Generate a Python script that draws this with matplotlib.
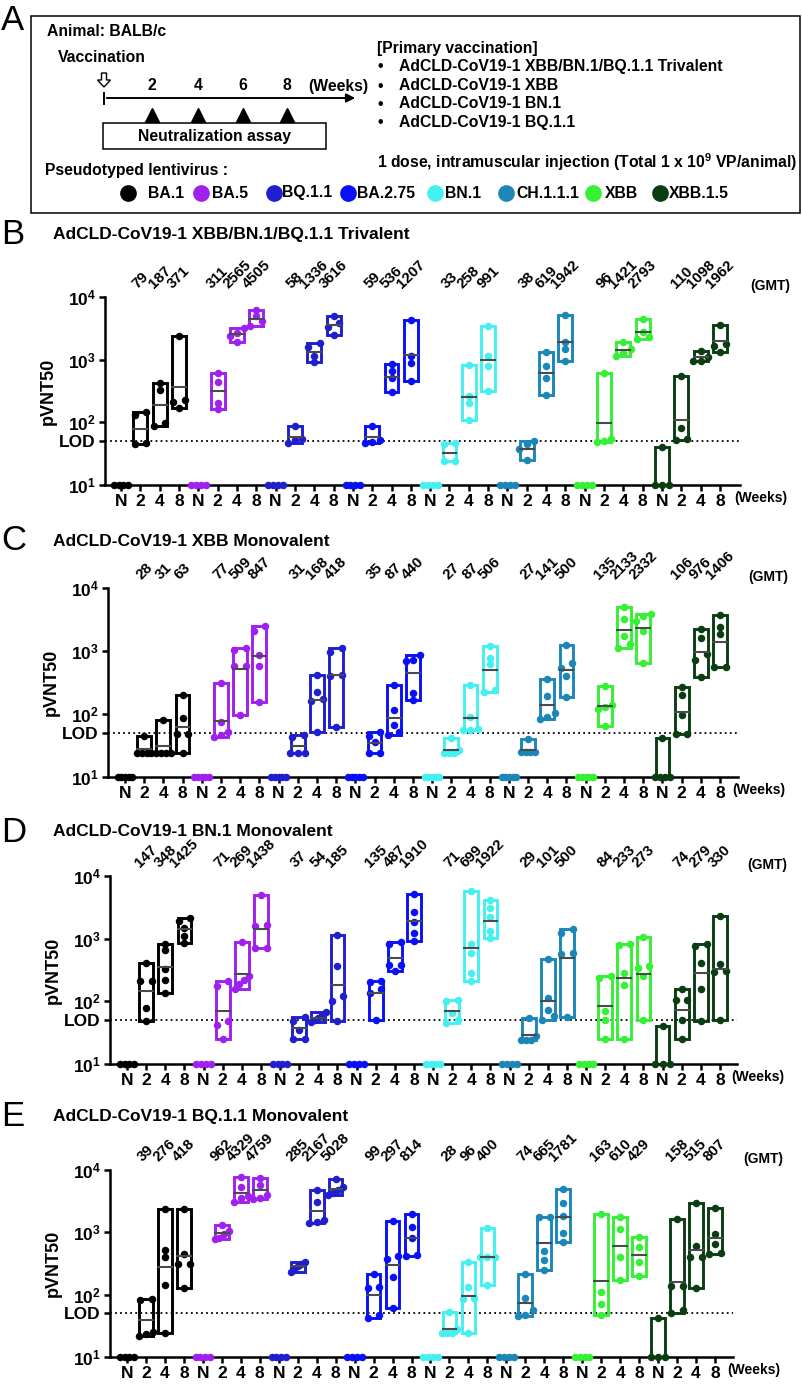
import numpy as np
import matplotlib
matplotlib.use('Agg')
import matplotlib.pyplot as plt
from matplotlib.patches import Rectangle, Polygon
from matplotlib.ticker import NullLocator

plt.rcParams['font.family'] = ['Liberation Sans', 'DejaVu Sans']
plt.rcParams['mathtext.fontset'] = 'custom'
plt.rcParams['mathtext.rm'] = 'Liberation Sans:bold'
plt.rcParams['mathtext.bf'] = 'Liberation Sans:bold'
plt.rcParams['mathtext.it'] = 'Liberation Sans:bold'

W, H = 802, 1384

# ---------------- data ----------------
variants = ['BA.1', 'BA.5', 'BQ.1.1', 'BA.2.75', 'BN.1', 'CH.1.1.1', 'XBB', 'XBB.1.5']
colors = ['#000000', '#A020F0', '#1F1FD0', '#0A10F5', '#45F0F0', '#1C86B8', '#35F035', '#0B3D12']
timepoints = ['N', '2', '4', '8']
ytick_vals = [10, 50, 100, 1000, 10000]
ytick_labels = [r'$10^{1}$', 'LOD', r'$10^{2}$', r'$10^{3}$', r'$10^{4}$']
LOD = 50

title_B = 'AdCLD-CoV19-1 XBB/BN.1/BQ.1.1 Trivalent'
title_C = 'AdCLD-CoV19-1 XBB Monovalent'
title_D = 'AdCLD-CoV19-1 BN.1 Monovalent'
title_E = 'AdCLD-CoV19-1 BQ.1.1 Monovalent'

gmt_B = [[79, 187, 371], [311, 2565, 4505], [58, 1336, 3616], [59, 536, 1207],
         [33, 258, 991], [38, 619, 1942], [96, 1421, 2793], [110, 1098, 1962]]
gmt_C = [[28, 31, 63], [77, 509, 847], [31, 168, 418], [35, 87, 440],
         [27, 87, 506], [27, 141, 500], [135, 2133, 2332], [106, 976, 1406]]
gmt_D = [[147, 348, 1425], [71, 269, 1438], [37, 54, 185], [135, 487, 1910],
         [71, 699, 1922], [29, 101, 500], [84, 233, 273], [74, 279, 330]]
gmt_E = [[39, 276, 418], [962, 4329, 4759], [285, 2167, 5028], [99, 297, 814],
         [28, 96, 400], [74, 665, 1781], [163, 610, 429], [158, 515, 807]]

N4 = [10, 10, 10, 10]
N5 = [10, 10, 10, 10, 10]

pts_B = [
    [N4, [145, 130, 46, 45], [425, 330, 98, 88], [2350, 230, 210, 170]],
    [N4, [612, 440, 205, 163], [3200, 2700, 2350, 1915], [6300, 5000, 4100, 3400]],
    [N4, [86, 54, 52, 47], [1845, 1600, 1130, 905], [4900, 3900, 3300, 2500]],
    [N4, [86, 53, 48, 46], [863, 650, 510, 300], [4300, 1150, 880, 460]],
    [N4, [47, 45, 24, 24], [830, 260, 204, 108], [3400, 1150, 800, 313]],
    [N4, [51, 45, 38, 25], [1310, 780, 510, 276], [5200, 1930, 1500, 940]],
    [N4, [612, 55, 50, 48], [1890, 1500, 1300, 1130], [4450, 2800, 2300, 2150]],
    [[41, 10, 10, 10], [540, 81, 55, 53], [1360, 1100, 960, 940], [3620, 1760, 1650, 1310]],
]
pts_C = [
    [N5, [45, 24, 24, 24, 24], [80, 24, 24, 24, 24], [200, 87, 49, 49, 24]],
    [N5, [308, 75, 52, 47, 43], [1100, 1050, 570, 570, 96], [2450, 2050, 870, 570, 157]],
    [N5, [46, 43, 24.4, 24.4, 24.4], [420, 220, 175, 160, 52], [1100, 970, 420, 400, 63]],
    [N5, [52, 45, 36, 24, 24], [290, 115, 67, 52, 46], [860, 720, 700, 215, 167]],
    [N5, [41, 27, 24, 24, 24], [290, 90, 57, 55, 55], [1180, 770, 620, 240, 220]],
    [N5, [40, 25, 25, 25, 25], [357, 195, 103, 88, 82], [1260, 640, 535, 395, 184]],
    [N5, [280, 140, 130, 120, 64], [5000, 3250, 1700, 1300, 1117], [3880, 3600, 3000, 2050, 644]],
    [[41, 10, 10, 10, 10], [270, 200, 96, 49, 49], [2240, 1620, 880, 730, 380], [3700, 2420, 1840, 565, 565]],
]
pts_D = [
    [N4, [415, 208, 208, 78, 48], [830, 670, 330, 220, 136], [2140, 1890, 1500, 1110, 853]],
    [N4, [208, 175, 48, 42, 25], [870, 250, 220, 190, 157], [5000, 1650, 1580, 710, 710]],
    [N4, [57, 48, 35, 25, 25], [68, 60, 54, 51, 46], [1160, 360, 120, 100, 48]],
    [N4, [208, 200, 156, 135, 51], [870, 830, 385, 380, 301], [5160, 2660, 1850, 1210, 905]],
    [N4, [106, 100, 65, 51, 45], [5690, 830, 600, 280, 208], [4190, 3040, 2230, 1340, 1025]],
    [N4, [54, 28, 24, 24, 24], [474, 112, 74, 58, 50], [1445, 1230, 590, 560, 56]],
    [N4, [250, 240, 69, 51, 25], [830, 780, 280, 185, 25], [1070, 360, 340, 250, 51]],
    [[41, 10, 10, 10], [160, 106, 106, 51, 25], [832, 760, 410, 157, 48], [2270, 395, 300, 290, 51]],
]
pts_E = [
    [N4, [84, 81, 25, 23.6, 22], [2340, 525, 400, 145, 24.5], [2340, 450, 305, 305, 129]],
    [N4, [1300, 1060, 950, 820, 770], [7700, 5400, 3800, 3500, 3100], [7500, 5700, 3950, 3600, 3400]],
    [N4, [340, 310, 285, 250, 232], [4800, 3100, 1560, 1450, 1390], [7100, 5300, 4800, 4200, 3960]],
    [N4, [218, 135, 130, 48, 43], [1515, 410, 375, 193, 60], [2000, 1230, 800, 440, 420]],
    [N4, [53, 28, 24, 24, 24], [336, 135, 90, 85, 24], [1160, 400, 400, 395, 145]],
    [N4, [215, 90, 56, 48, 45], [1780, 1750, 505, 360, 247], [4900, 2940, 1840, 985, 705]],
    [N4, [1935, 110, 70, 47], [1735, 1150, 395, 170], [828, 590, 337, 200]],
    [[42, 10, 10, 10], [1630, 136, 136, 56, 51], [2910, 610, 395, 395, 130], [2500, 955, 660, 470, 457]],
]

# ---------------- figure ----------------
fig = plt.figure(figsize=(W / 100, H / 100), dpi=100)
ov = fig.add_axes([0, 0, 1, 1])
ov.set_xlim(0, W)
ov.set_ylim(H, 0)
ov.axis('off')

BOLD = dict(fontweight='bold')

# ---------------- panel A ----------------
ov.add_patch(Rectangle((30.7, 16), 769.3, 197, fill=False, lw=1.1, ec='black'))
ov.text(1, 21, 'A', fontsize=25, va='center', ha='left')
fsA = 11.3
ov.text(47, 32, 'Animal: BALB/c', fontsize=fsA, va='center', **BOLD)
ov.text(58, 58, 'Vaccination', fontsize=fsA, va='center', **BOLD)
ov.add_patch(Polygon([(101.5, 73), (106.5, 73), (106.5, 80), (110.5, 80), (104, 87),
                      (97.5, 80), (101.5, 80)], closed=True, fc='white', ec='black', lw=1.0))
week_x = [152, 198, 243, 287]
for wx, wl in zip(week_x, ['2', '4', '6', '8']):
    ov.text(wx, 86, wl, fontsize=fsA, ha='center', va='center', **BOLD)
    ov.plot([wx], [115], marker='^', ms=9.5, color='black')
ov.text(308, 86, '(Weeks)', fontsize=fsA, ha='left', va='center', **BOLD)
ov.plot([104, 104], [93, 104], color='black', lw=1.4)
ov.annotate('', xy=(358, 98), xytext=(104, 98),
            arrowprops=dict(arrowstyle='-|>', color='black', lw=1.4, mutation_scale=13))
ov.add_patch(Rectangle((103, 123), 223, 26, fill=False, lw=1.1, ec='black'))
ov.text(215, 136.5, 'Neutralization assay', fontsize=fsA, ha='center', va='center', **BOLD)
ov.text(45, 170, 'Pseudotyped lentivirus :', fontsize=fsA, va='center', **BOLD)

leg_dot_x = [128, 201, 274, 348, 435, 506, 593, 660]
leg_txt_x = [148, 212, 282, 357, 445, 516, 605, 669]
for dx, tx, c, v in zip(leg_dot_x, leg_txt_x, colors, variants):
    ov.plot([dx], [193], marker='o', ms=11, color=c)
    ov.text(tx, 193, v, fontsize=fsA, va='center', ha='left', **BOLD)

ov.text(377, 48, '[Primary vaccination]', fontsize=fsA, va='center', **BOLD)
vacc_lines = ['AdCLD-CoV19-1 XBB/BN.1/BQ.1.1 Trivalent', 'AdCLD-CoV19-1 XBB',
              'AdCLD-CoV19-1 BN.1', 'AdCLD-CoV19-1 BQ.1.1']
for yy, t in zip([67, 86, 104, 123], vacc_lines):
    ov.text(378, yy, '•', fontsize=fsA, va='center', ha='left', **BOLD)
    ov.text(399, yy, t, fontsize=fsA, va='center', ha='left', **BOLD)
ov.text(377, 162, r'1 dose, intramuscular injection (Total 1 x 10$^{9}$ VP/animal)',
        fontsize=fsA, va='center', ha='left', **BOLD)


# ---------------- scatter/box panels ----------------
def swarm(vals):
    lv = np.log10(np.asarray(vals, float))
    order = np.argsort(lv)
    offs = np.zeros(len(lv))
    clusters, cur = [], [order[0]]
    for i in order[1:]:
        if lv[i] - lv[cur[-1]] < 0.085:
            cur.append(i)
        else:
            clusters.append(cur)
            cur = [i]
    clusters.append(cur)
    for cl in clusters:
        k = len(cl)
        if k == 1:
            continue
        step = min(0.6, 0.76 / (k - 1))
        for j, idx in enumerate(cl):
            offs[idx] = (j - (k - 1) / 2) * step
    return offs


def panel(geom, letter, title, title_y, pts, gmt):
    left, x0, x31, right, top, bottom = geom
    s = (x31 - x0) / 31
    ax = fig.add_axes([left / W, 1 - bottom / H, (right - left) / W, (bottom - top) / H])
    ax.patch.set_alpha(0)
    ax.set_yscale('log')
    ax.set_ylim(10, 1e4)
    ax.set_xlim((left - x0) / s, (right - x0) / s)
    for sp in ['top', 'right']:
        ax.spines[sp].set_visible(False)
    for sp in ['left', 'bottom']:
        ax.spines[sp].set_linewidth(1.8)
    ax.yaxis.set_minor_locator(NullLocator())
    ax.set_yticks(ytick_vals)
    ax.set_yticklabels(ytick_labels, fontsize=12.5, fontweight='bold')
    ticks = np.arange(32)
    ax.set_xticks(ticks)
    ax.set_xticklabels(timepoints * 8, fontsize=12.5, fontweight='bold')
    ax.tick_params(axis='both', width=1.8, length=4.5, pad=2)
    ax.set_ylabel('pVNT50', fontsize=13, fontweight='bold', labelpad=2)
    ax.axhline(LOD, color='black', lw=1.3, ls=(0, (1, 1.8)), zorder=1)

    for vi, (c, grp) in enumerate(zip(colors, pts)):
        for ti, vals in enumerate(grp):
            pos = vi * 4 + ti
            lo, hi = min(vals), max(vals)
            ax.bar(pos, hi - lo, bottom=lo, width=0.72, fill=False, edgecolor=c,
                   linewidth=2.1, zorder=2, clip_on=False)
            offs = swarm(vals)
            ax.plot(pos + offs, vals, 'o', ms=5.4, color=c, zorder=3, clip_on=False,
                    markeredgewidth=0)
            if ti > 0:
                g = gmt[vi][ti - 1]
                ax.plot([pos - 0.36, pos + 0.36], [g, g], color='#4a4a4a', lw=1.5, zorder=4)
                ax.annotate(str(g), xy=(pos, 1), xycoords=('data', 'axes fraction'),
                            xytext=(0, 6), textcoords='offset pixels', rotation=45,
                            ha='center', va='bottom', fontsize=10.8, fontweight='bold',
                            annotation_clip=False)
    ax.annotate('(GMT)', xy=(1, 1), xycoords='axes fraction', xytext=(10, 11),
                textcoords='offset pixels', ha='left', va='center', fontsize=10,
                fontweight='bold')
    ax.annotate('(Weeks)', xy=(1, 0), xycoords='axes fraction', xytext=(-6, -13),
                textcoords='offset pixels', ha='left', va='center', fontsize=10,
                fontweight='bold')
    ov.text(1, title_y, letter, fontsize=25, va='center', ha='left')
    ov.text(53, title_y, title, fontsize=12.5, va='center', ha='left', **BOLD)
    return ax


panel((105, 121, 720, 740, 297, 485), 'B', title_B, 235, pts_B, gmt_B)
panel((108, 125, 720, 738, 588, 777), 'C', title_C, 541, pts_C, gmt_C)
panel((110, 127, 720, 737, 876, 1064), 'D', title_D, 832, pts_D, gmt_D)
panel((110, 127, 715, 733, 1170, 1357), 'E', title_E, 1117, pts_E, gmt_E)

fig.savefig('out.png', dpi=100)
